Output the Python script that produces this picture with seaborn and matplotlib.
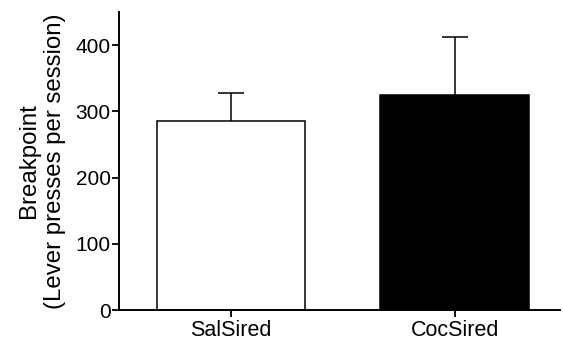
import numpy as np
import pandas as pd
import seaborn as sns
import matplotlib
matplotlib.use('Agg')
import matplotlib.pyplot as plt

# data
groups = ['SalSired', 'CocSired']
means = [286, 324]
sem = [42, 89]
bar_colors = ['white', 'black']

sns.set_style('ticks')
plt.rcParams['font.family'] = ['Liberation Sans', 'DejaVu Sans']
plt.rcParams['text.color'] = 'black'
plt.rcParams['xtick.color'] = 'black'
plt.rcParams['ytick.color'] = 'black'
plt.rcParams['axes.labelcolor'] = 'black'

df = pd.DataFrame({'group': groups, 'breakpoint': means})

fig = plt.figure(figsize=(5.63, 3.44), dpi=100)
ax = fig.add_axes([0.2114, 0.0988, 0.7833, 0.8663])

sns.barplot(data=df, x='group', y='breakpoint', hue='group', palette=bar_colors,
            edgecolor='black', linewidth=1.1, width=0.665, errorbar=None,
            legend=False, ax=ax, zorder=2)

# upper error bars only
eb = ax.errorbar(np.arange(len(groups)), means, yerr=[np.zeros(len(sem)), sem],
                 fmt='none', ecolor='black', elinewidth=1.1, capsize=9.5,
                 capthick=1.1, zorder=1)
eb[1][0].set_visible(False)  # hide lower cap

ax.set_ylim(0, 450)
ax.set_xlim(-0.5, 1.47)
ax.set_yticks([0, 100, 200, 300, 400])
ax.set_xlabel('')
ax.set_ylabel('Breakpoint\n(Lever presses per session)', fontsize=17.3,
              labelpad=7, linespacing=1.25)
ax.tick_params(axis='y', labelsize=15, length=5, width=1.3, pad=1)
ax.tick_params(axis='x', labelsize=15.5, length=5, width=1.3, pad=2)
for s in ['left', 'bottom']:
    ax.spines[s].set_linewidth(1.4)
    ax.spines[s].set_color('black')
sns.despine(ax=ax)

fig.savefig('out.png', dpi=100)
